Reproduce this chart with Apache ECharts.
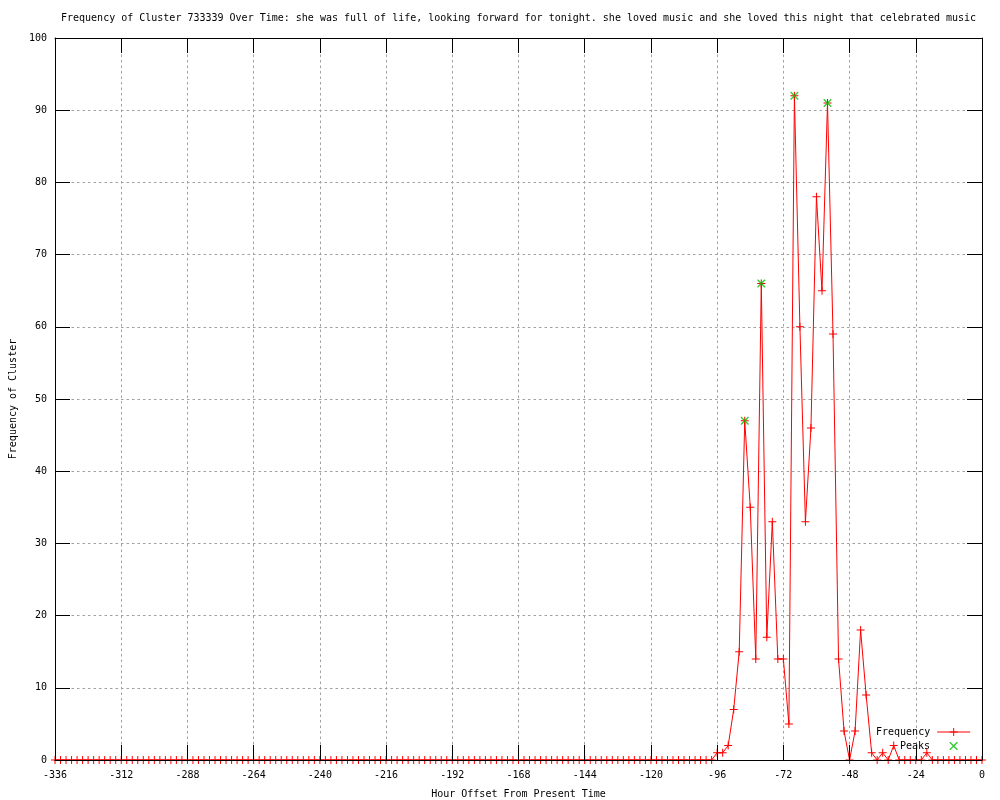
<!DOCTYPE html>
<html><head><meta charset="utf-8">
<script src="https://cdn.jsdelivr.net/npm/echarts@6/dist/echarts.min.js"></script>
<style>html,body{margin:0;padding:0;background:#fff}#c{width:1000px;height:800px}</style>
</head><body><div id="c"></div>
<script>
const titleText = "Frequency of Cluster 733339 Over Time: she was full of life, looking forward for tonight. she loved music and she loved this night that celebrated music";
const xAxisName = "Hour Offset From Present Time";
const yAxisName = "Frequency of Cluster";
const seriesNames = ["Frequency", "Peaks"];

const hours = [
  -336,-334,-332,-330,-328,-326,-324,-322,-320,-318,-316,-314,-312,-310,-308,-306,-304,-302,-300,-298,
  -296,-294,-292,-290,-288,-286,-284,-282,-280,-278,-276,-274,-272,-270,-268,-266,-264,-262,-260,-258,
  -256,-254,-252,-250,-248,-246,-244,-242,-240,-238,-236,-234,-232,-230,-228,-226,-224,-222,-220,-218,
  -216,-214,-212,-210,-208,-206,-204,-202,-200,-198,-196,-194,-192,-190,-188,-186,-184,-182,-180,-178,
  -176,-174,-172,-170,-168,-166,-164,-162,-160,-158,-156,-154,-152,-150,-148,-146,-144,-142,-140,-138,
  -136,-134,-132,-130,-128,-126,-124,-122,-120,-118,-116,-114,-112,-110,-108,-106,-104,-102,-100,-98,
  -96,-94,-92,-90,-88,-86,-84,-82,-80,-78,-76,-74,-72,-70,-68,-66,-64,-62,-60,-58,
  -56,-54,-52,-50,-48,-46,-44,-42,-40,-38,-36,-34,-32,-30,-28,-26,-24,-22,-20,-18,
  -16,-14,-12,-10,-8,-6,-4,-2,0
];
const frequency = [
  0,0,0,0,0,0,0,0,0,0,0,0,0,0,0,0,0,0,0,0,
  0,0,0,0,0,0,0,0,0,0,0,0,0,0,0,0,0,0,0,0,
  0,0,0,0,0,0,0,0,0,0,0,0,0,0,0,0,0,0,0,0,
  0,0,0,0,0,0,0,0,0,0,0,0,0,0,0,0,0,0,0,0,
  0,0,0,0,0,0,0,0,0,0,0,0,0,0,0,0,0,0,0,0,
  0,0,0,0,0,0,0,0,0,0,0,0,0,0,0,0,0,0,0,0,
  1,1,2,7,15,47,35,14,66,17,33,14,14,5,92,60,33,46,78,65,
  91,59,14,4,0,4,18,9,1,0,1,0,2,0,0,0,0,0,1,0,
  0,0,0,0,0,0,0,0,0
];
const peakHours = [-86, -80, -68, -56];
const peakValues = [47, 66, 92, 91];

const xMin = -336, xMax = 0, xStep = 24;
const yMin = 0, yMax = 100, yStep = 10;

const FONT = "DejaVu Sans Mono";
const plusPath = 'path://M0,3.5H8V4.5H0Z M3.5,0H4.5V8H3.5Z';
const crossPath = 'path://M0,0L1,0L8,7L8,8L7,8L0,1Z M7,0L8,0L8,1L1,8L0,8L0,7Z';

const freqData = hours.map((h, i) => [h, frequency[i]]);
const peakData = peakHours.map((h, i) => [h, peakValues[i]]);

const gridLine = { show: true, lineStyle: { color: '#a0a0a0', width: 1, type: [2.5, 3] } };
const blackLine = { show: true, onZero: false, lineStyle: { color: '#000', width: 1 } };
const inTick = { show: true, inside: true, length: 15, lineStyle: { color: '#000', width: 1 } };
const labelStyle = { fontFamily: FONT, fontSize: 10, color: '#000' };

const chart = echarts.init(document.getElementById('c'), null, { renderer: 'canvas' });
chart.setOption({
  animation: false,
  backgroundColor: '#fff',
  title: {
    text: titleText, left: 61, top: 13, padding: 0,
    textStyle: { fontFamily: FONT, fontSize: 10, fontWeight: 'normal', color: '#000' }
  },
  grid: { left: 55, right: 18, top: 38, bottom: 40, show: false, containLabel: false, outerBoundsMode: 'none' },
  legend: [
    { data: [seriesNames[0]], left: 876, top: 727, padding: 0, align: 'right', itemWidth: 33, itemHeight: 10,
      lineStyle: { width: 1 },
      textStyle: Object.assign({ padding: [0, 2, 0, 0] }, labelStyle) },
    { data: [seriesNames[1]], left: 900, top: 741, padding: 0, align: 'right', itemWidth: 33, itemHeight: 8,
      textStyle: Object.assign({ padding: [0, 2, 0, 0] }, labelStyle) }
  ],
  xAxis: [
    { type: 'value', position: 'bottom', min: xMin, max: xMax, interval: xStep, z: 10,
      axisLine: blackLine, axisTick: inTick, splitLine: { show: false },
      axisLabel: Object.assign({ margin: 10 }, labelStyle),
      name: xAxisName, nameLocation: 'middle', nameGap: 29, nameTextStyle: labelStyle },
    { type: 'value', position: 'top', min: xMin, max: xMax, interval: xStep,
      axisLine: blackLine, axisTick: inTick, splitLine: gridLine, axisLabel: { show: false } }
  ],
  yAxis: [
    { type: 'value', position: 'left', min: yMin, max: yMax, interval: yStep, z: 10,
      axisLine: blackLine, axisTick: inTick, splitLine: { show: false },
      axisLabel: Object.assign({ margin: 8 }, labelStyle),
      name: yAxisName, nameLocation: 'middle', nameGap: 35, nameRotate: 90, nameTextStyle: labelStyle },
    { type: 'value', position: 'right', min: yMin, max: yMax, interval: yStep,
      axisLine: blackLine, axisTick: inTick, splitLine: gridLine, axisLabel: { show: false } }
  ],
  series: [
    { name: seriesNames[0], type: 'line', xAxisIndex: 0, yAxisIndex: 0, data: freqData,
      showAllSymbol: true, symbol: plusPath, symbolSize: 8, clip: false,
      lineStyle: { color: '#ff0000', width: 1 }, itemStyle: { color: '#ff0000' }, z: 3 },
    { name: seriesNames[1], type: 'scatter', xAxisIndex: 0, yAxisIndex: 0, data: peakData,
      symbol: crossPath, symbolSize: 8, itemStyle: { color: '#00c000' }, z: 4 }
  ]
});
</script></body></html>
